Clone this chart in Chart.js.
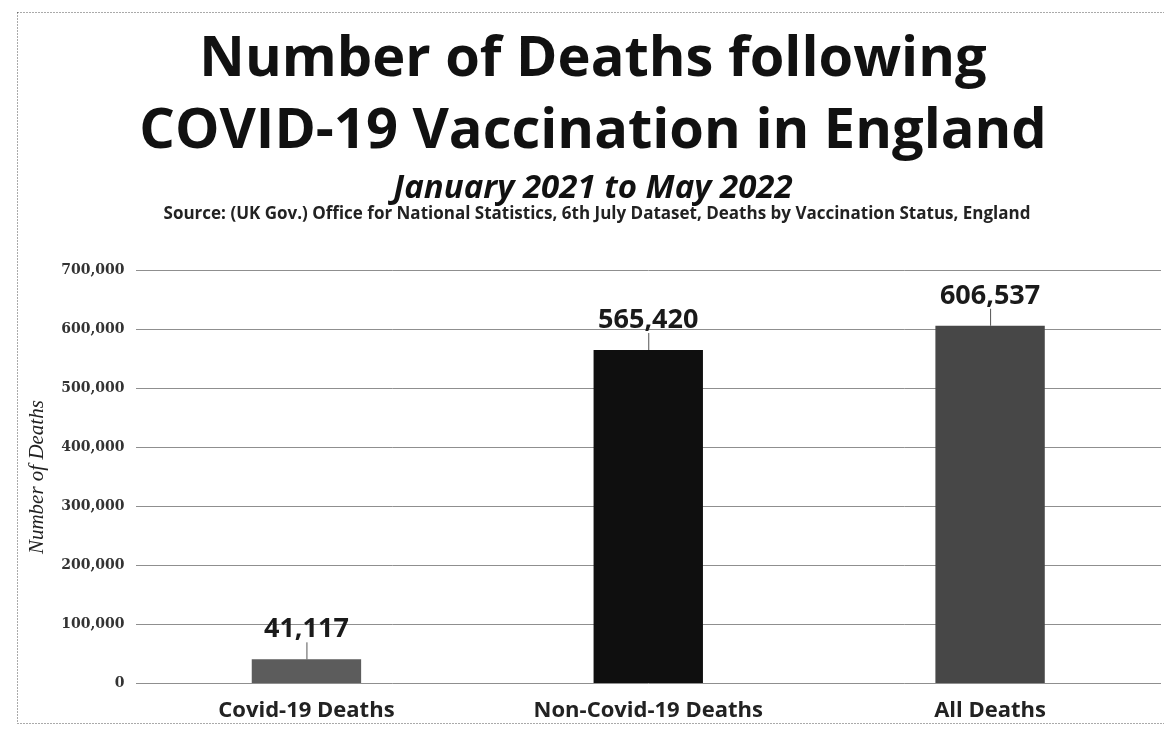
<!DOCTYPE html>
<html>
<head>
<meta charset="utf-8">
<script src="https://cdn.jsdelivr.net/npm/chart.js@4/dist/chart.umd.min.js"></script>
<style>
  html, body { margin: 0; padding: 0; background: #fff; }
  #wrap { width: 1164px; height: 732px; position: relative; }
</style>
</head>
<body>
<div id="wrap"><canvas id="deaths" width="1164" height="732"></canvas></div>
<script>
// data
const categories = ['Covid-19 Deaths', 'Non-Covid-19 Deaths', 'All Deaths'];
const deathCounts = [41117, 565420, 606537];
const barColors = ['#5c5c5c', '#0f0f0f', '#474747'];
const yTicks = [0, 100000, 200000, 300000, 400000, 500000, 600000, 700000];

const sourceText = 'Source: (UK Gov.) Office for National Statistics, 6th July Dataset, Deaths by Vaccination Status, England';

// dotted frame + source line
const framePlugin = {
    id: 'frame',
    beforeDraw(chart) {
        const ctx = chart.ctx;
        ctx.save();
        ctx.fillStyle = '#fff';
        ctx.fillRect(0, 0, chart.width, chart.height);
        ctx.strokeStyle = '#555';
        ctx.lineWidth = 1;
        ctx.setLineDash([1, 2]);
        ctx.strokeRect(17.5, 12.5, chart.width + 20, 711);
        ctx.restore();
    },
    afterDraw(chart) {
        const ctx = chart.ctx;
        ctx.save();
        ctx.font = 'bold 17px "Open Sans", sans-serif';
        ctx.fillStyle = '#222';
        ctx.textAlign = 'center';
        ctx.textBaseline = 'middle';
        ctx.fillText(sourceText, 597, 214);
        ctx.restore();
    }
};

// value labels with little leader lines
const valueLabels = {
    id: 'valueLabels',
    afterDatasetsDraw(chart) {
        const ctx = chart.ctx;
        const meta = chart.getDatasetMeta(0);
        ctx.save();
        ctx.font = 'bold 27px "Open Sans", sans-serif';
        ctx.fillStyle = '#1a1a1a';
        ctx.strokeStyle = '#555';
        ctx.lineWidth = 1;
        ctx.textAlign = 'center';
        ctx.textBaseline = 'alphabetic';
        meta.data.forEach((bar, i) => {
            const x = bar.x;
            const y = bar.y;
            ctx.beginPath();
            ctx.moveTo(x + 0.5, y);
            ctx.lineTo(x + 0.5, y - 17);
            ctx.stroke();
            ctx.fillText(deathCounts[i].toLocaleString('en-US'), x, y - 22);
        });
        ctx.restore();
    }
};

new Chart(document.getElementById('deaths'), {
    type: 'bar',
    data: {
        labels: categories,
        datasets: [{
            data: deathCounts,
            backgroundColor: barColors,
            borderWidth: 0,
            categoryPercentage: 1,
            barPercentage: 0.32
        }]
    },
    options: {
        responsive: false,
        animation: false,
        layout: { padding: { left: 25, right: 3, top: 24, bottom: 2 } },
        plugins: {
            legend: { display: false },
            tooltip: { enabled: false },
            title: {
                display: true,
                text: ['Number of Deaths following', 'COVID-19 Vaccination in England'],
                color: '#111',
                font: { family: '"Open Sans", sans-serif', size: 56, weight: 'bold', lineHeight: 1.286 },
                padding: { top: 0, bottom: 0 }
            },
            subtitle: {
                display: true,
                text: 'January 2021 to May 2022',
                color: '#111',
                font: { family: '"Open Sans", sans-serif', size: 33, weight: 'bold', style: 'italic', lineHeight: 1.2 },
                padding: { top: 1, bottom: 62 }
            }
        },
        scales: {
            x: {
                grid: { display: false },
                border: { display: false },
                ticks: {
                    color: '#222',
                    font: { family: '"Open Sans", sans-serif', size: 22, weight: 'bold' },
                    padding: 6
                }
            },
            y: {
                min: 0,
                max: 700000,
                afterBuildTicks(axis) {
                    axis.ticks = yTicks.map(v => ({ value: v }));
                },
                grid: { color: '#8f8f8f', lineWidth: 1, drawTicks: false },
                border: { display: false },
                ticks: {
                    color: '#333',
                    padding: 11,
                    font: { family: '"DejaVu Serif", serif', size: 14, weight: 'bold' },
                    callback: v => v.toLocaleString('en-US')
                },
                title: {
                    display: true,
                    text: 'Number of Deaths',
                    color: '#222',
                    font: { family: '"Liberation Serif", serif', size: 21, style: 'italic' },
                    padding: { top: 0, bottom: 0 }
                }
            }
        }
    },
    plugins: [framePlugin, valueLabels]
});
</script>
</body>
</html>
